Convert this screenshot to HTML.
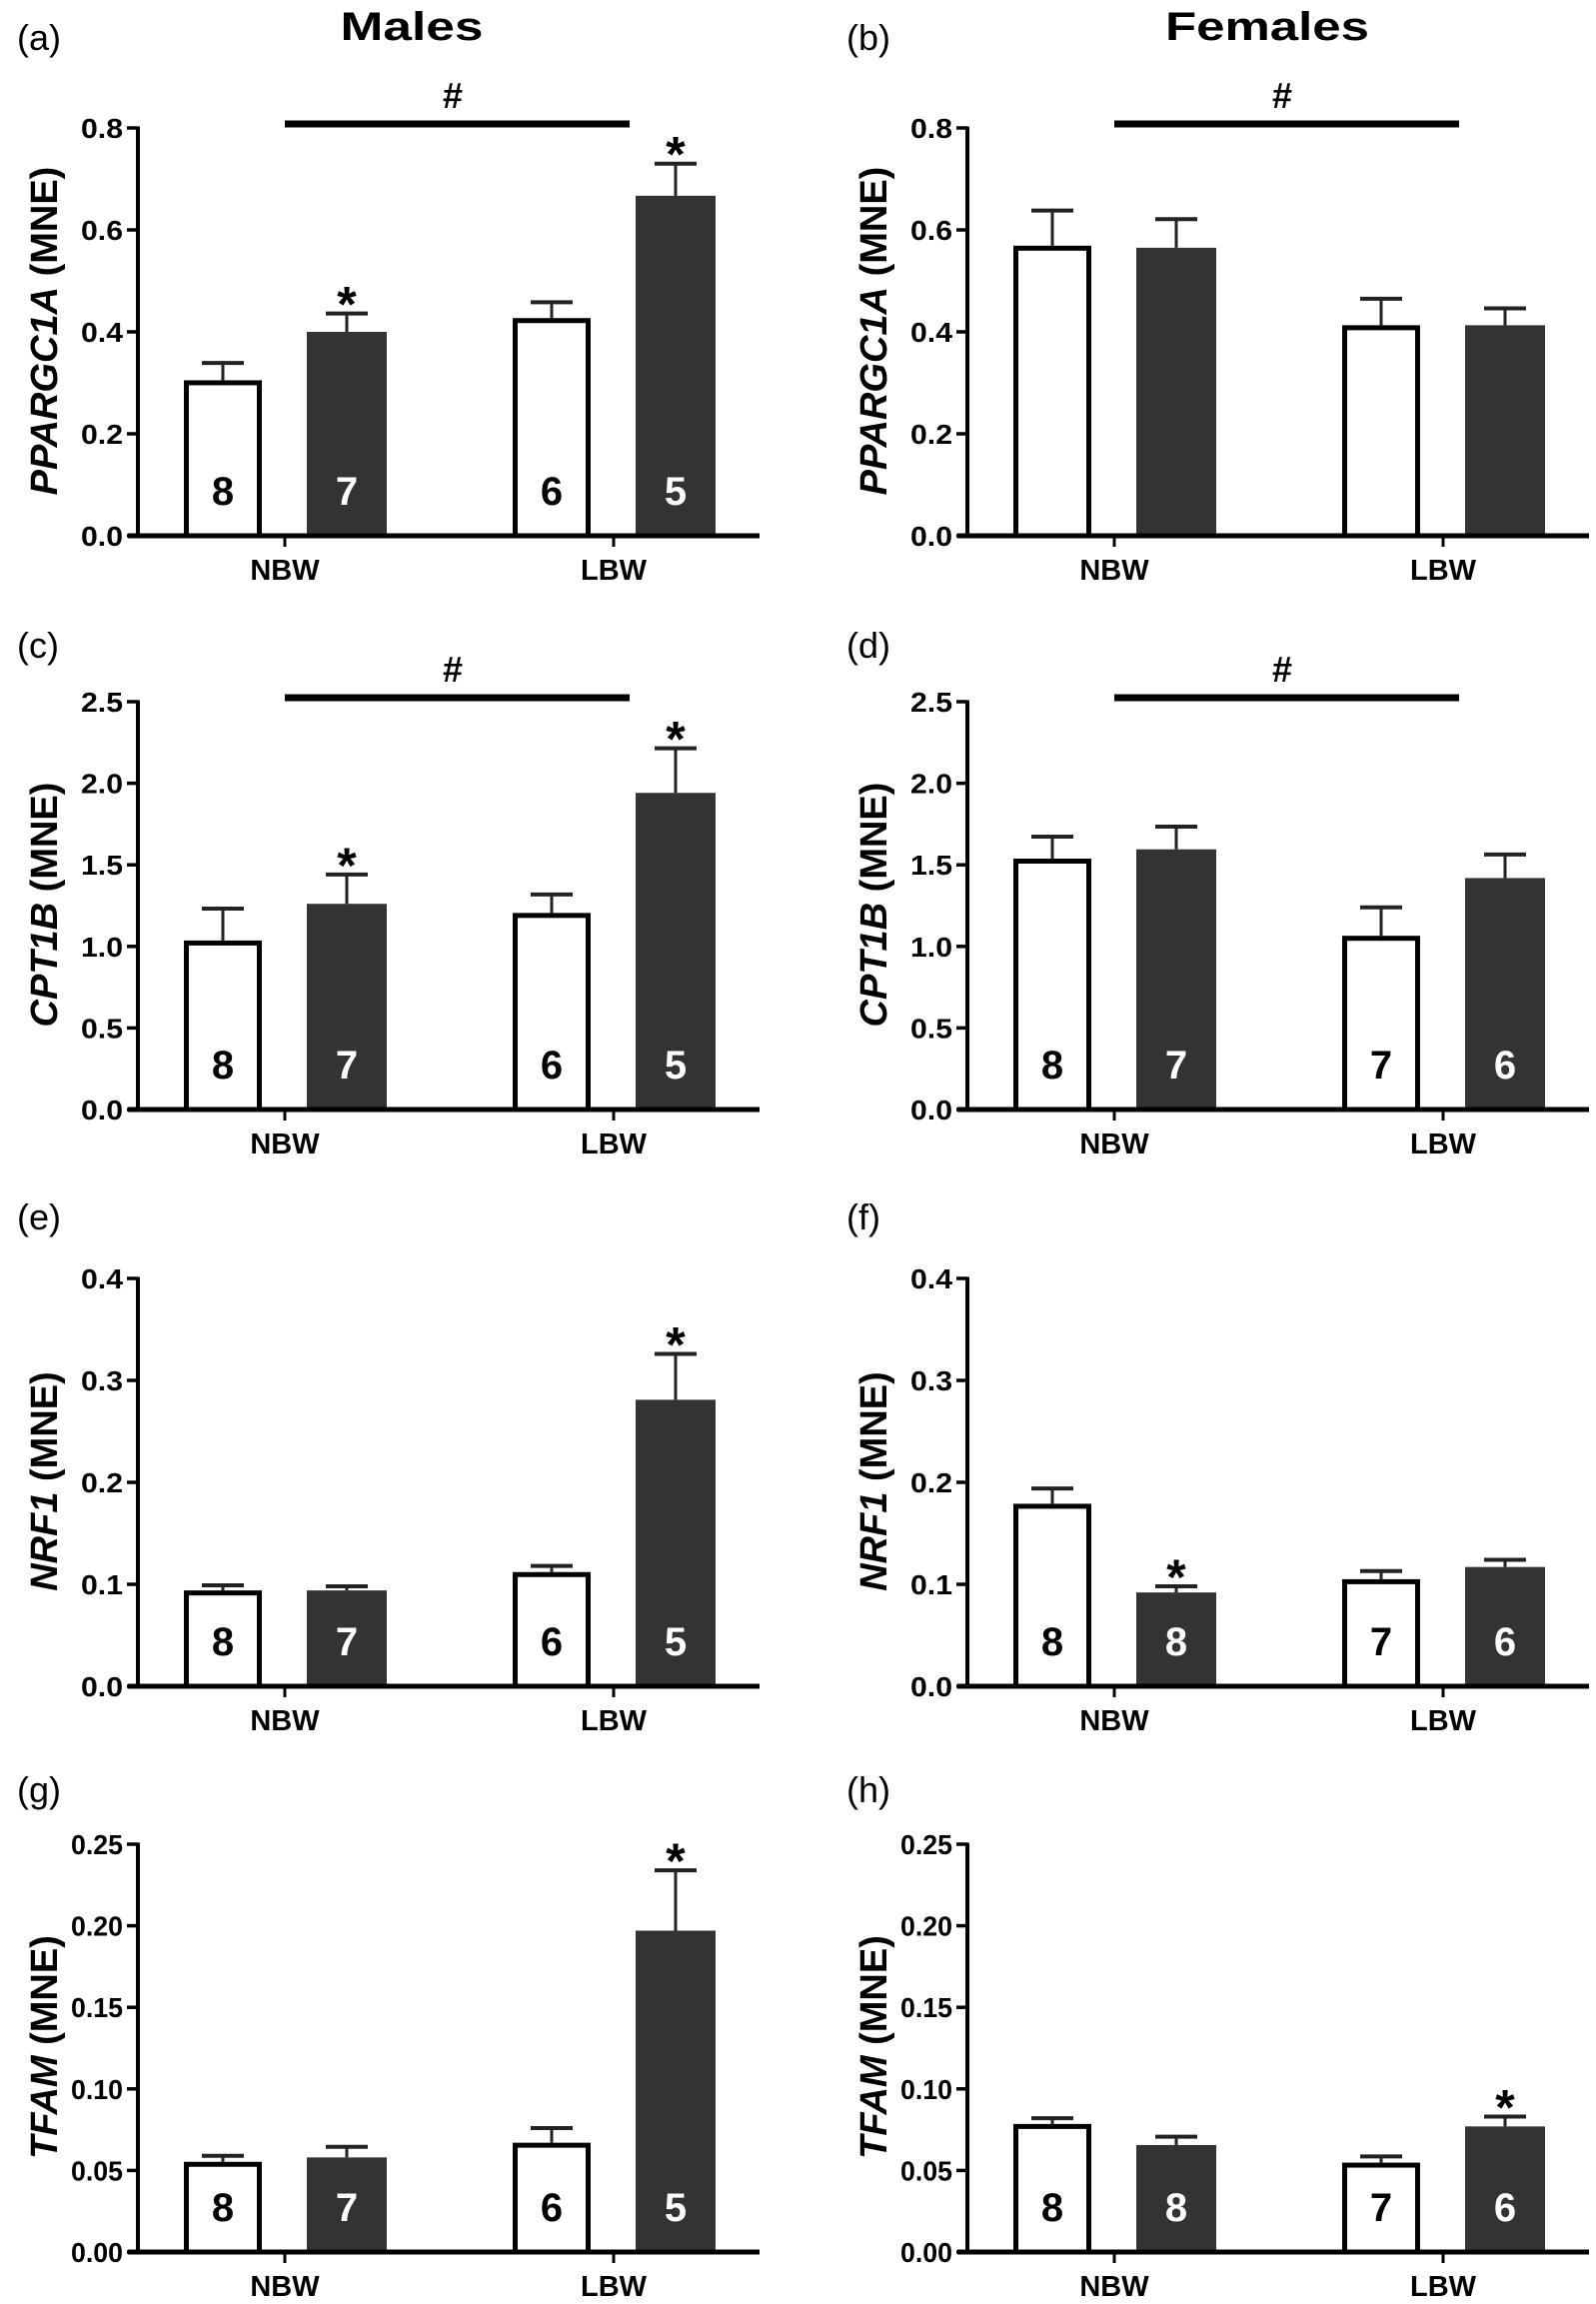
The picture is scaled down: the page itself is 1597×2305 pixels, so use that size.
<!DOCTYPE html>
<html><head><meta charset="utf-8">
<style>
html,body{margin:0;padding:0;background:#fff;}
svg{display:block;font-family:"Liberation Sans",Arial,sans-serif;}
</style></head>
<body>
<svg id="fig" width="1597" height="2305" viewBox="0 0 1597 2305" xmlns="http://www.w3.org/2000/svg">
<text x="412" y="40" font-size="40" font-weight="bold" text-anchor="middle" textLength="143" lengthAdjust="spacingAndGlyphs">Males</text>
<text x="1268" y="40" font-size="40" font-weight="bold" text-anchor="middle" textLength="204" lengthAdjust="spacingAndGlyphs">Females</text>
</svg>
<script>
// ---- data ----
const groups = ["NBW", "LBW"];
const panelLetters = ["a","b","c","d","e","f","g","h"];
const yTitles = ["PPARGC1A","PPARGC1A","CPT1B","CPT1B","NRF1","NRF1","TFAM","TFAM"];
const yMax = [0.8,0.8,2.5,2.5,0.4,0.4,0.25,0.25];
const yTicks = [
  ["0.0","0.2","0.4","0.6","0.8"],["0.0","0.2","0.4","0.6","0.8"],
  ["0.0","0.5","1.0","1.5","2.0","2.5"],["0.0","0.5","1.0","1.5","2.0","2.5"],
  ["0.0","0.1","0.2","0.3","0.4"],["0.0","0.1","0.2","0.3","0.4"],
  ["0.00","0.05","0.10","0.15","0.20","0.25"],["0.00","0.05","0.10","0.15","0.20","0.25"]
];
// order: NBW-white, NBW-dark, LBW-white, LBW-dark
const means = [
  [0.305,0.400,0.427,0.667],[0.569,0.565,0.413,0.413],
  [1.036,1.261,1.205,1.941],[1.538,1.595,1.065,1.419],
  [0.094,0.094,0.112,0.281],[0.179,0.092,0.105,0.117],
  [0.0553,0.058,0.067,0.197],[0.0785,0.0656,0.0548,0.077]
];
const sems = [
  [0.034,0.036,0.031,0.063],[0.069,0.056,0.052,0.033],
  [0.196,0.180,0.113,0.273],[0.135,0.139,0.174,0.144],
  [0.005,0.004,0.006,0.045],[0.015,0.006,0.008,0.007],
  [0.0037,0.0065,0.009,0.037],[0.0035,0.0051,0.0038,0.006]
];
const nLabels = [
  ["8","7","6","5"],[],["8","7","6","5"],["8","7","7","6"],
  ["8","7","6","5"],["8","8","7","6"],["8","7","6","5"],["8","8","7","6"]
];
const stars = [
  [0,1,0,1],[0,0,0,0],[0,1,0,1],[0,0,0,0],
  [0,0,0,1],[0,1,0,0],[0,0,0,1],[0,0,0,1]
];
const hashBar = [1,1,1,1,0,0,0,0];

// ---- layout ----
const NS = "http://www.w3.org/2000/svg";
const svg = document.getElementById("fig");
const baselines = [536, 1110, 1687, 2253];
const labelY = [50, 658, 1230, 1803];
const axisX = [138, 968];
const H = 408;
function mk(tag, attrs, parent) {
  const e = document.createElementNS(NS, tag);
  for (const k in attrs) e.setAttribute(k, attrs[k]);
  (parent || svg).appendChild(e);
  return e;
}
panelLetters.forEach((L, p) => {
  const row = Math.floor(p / 2), col = p % 2;
  const base = baselines[row], x0 = axisX[col], top = base - H;
  const yS = v => base - v / yMax[p] * H;
  const groupX = [x0 + 147, x0 + 476];
  const barX = [groupX[0] - 62, groupX[0] + 62, groupX[1] - 62, groupX[1] + 62];
  const g = mk("g", {});
  
  

  const pl = mk("text", {x: x0 - 121, y: labelY[row], "font-size": 36}, g);
  pl.textContent = "(" + L + ")";
  
  

  const yt = mk("text", {x: 0, y: 0, "font-size": 38, "font-weight": "bold", "text-anchor": "middle",
    transform: "translate(" + (x0 - 81) + "," + (base - 205) + ") rotate(-90)"}, g);
  const ti = mk("tspan", {"font-style": "italic"}, yt); ti.textContent = yTitles[p];
  const tr = mk("tspan", {}, yt); tr.textContent = " (MNE)";
  
  

  means[p].forEach((m, i) => {
    const cx = barX[i], yt2 = yS(m), err = yS(m + sems[p][i]);
    const el = mk("line", {x1: cx, x2: cx, y1: yt2, y2: err, stroke: "#222", "stroke-width": 3}, g);
    
    
    const cap = mk("line", {x1: cx - 21, x2: cx + 21, y1: err, y2: err, stroke: "#222", "stroke-width": 4}, g);
    
    
    let r;
    if (i % 2 === 0) {
      r = mk("rect", {x: cx - 36.5, y: yt2 + 2.5, width: 73, height: base - yt2 - 2.5, fill: "#fff", stroke: "#000", "stroke-width": 5}, g);
    } else {
      r = mk("rect", {x: cx - 40, y: yt2, width: 80, height: base - yt2, fill: "#333"}, g);
    }
    
    
    if (nLabels[p][i]) {
      const t = mk("text", {x: cx, y: base - 31, "font-size": 40, "font-weight": "bold", "text-anchor": "middle", fill: i % 2 ? "#fff" : "#000"}, g);
      t.textContent = nLabels[p][i];
      
      
    }
    if (stars[p][i]) {
      const s = mk("text", {x: cx, y: err + 8, "font-size": 50, "font-weight": "bold", "text-anchor": "middle"}, g);
      s.textContent = "*";
      
      
    }
  });

  const ya = mk("line", {x1: x0, x2: x0, y1: top - 1.5, y2: base, stroke: "#000", "stroke-width": 4}, g);
  
  
  const xa = mk("line", {x1: x0 - 10, x2: x0 + 622, y1: base, y2: base, stroke: "#000", "stroke-width": 5}, g);
  
  
  const nT = yTicks[p].length;
  yTicks[p].forEach((lab, k) => {
    const v = yMax[p] * k / (nT - 1), y = yS(v);
    const tk = mk("line", {x1: x0 - 11, x2: x0, y1: y, y2: y, stroke: "#000", "stroke-width": 3.5}, g);
    
    
    const tl = mk("text", {x: x0 - 15, y: y + 10, "font-size": 28, "font-weight": "bold", "text-anchor": "end",
      textLength: lab.length * 10 + 12, lengthAdjust: "spacingAndGlyphs"}, g);
    tl.textContent = lab;
    
    
  });
  groups.forEach((gname, k) => {
    const tk = mk("line", {x1: groupX[k], x2: groupX[k], y1: base, y2: base + 11, stroke: "#000", "stroke-width": 3}, g);
    
    
    const tl = mk("text", {x: groupX[k], y: base + 44, "font-size": 29, "font-weight": "bold", "text-anchor": "middle"}, g);
    tl.textContent = gname;
    
    
  });

  if (hashBar[p]) {
    const hb = mk("line", {x1: groupX[0], x2: groupX[0] + 345, y1: top - 4, y2: top - 4, stroke: "#000", "stroke-width": 7}, g);
    
    
    const ht = mk("text", {x: groupX[0] + 168, y: top - 20, "font-size": 36, "font-weight": "bold", "text-anchor": "middle"}, g);
    ht.textContent = "#";
    
    
  }
});
</script>
</body></html>
